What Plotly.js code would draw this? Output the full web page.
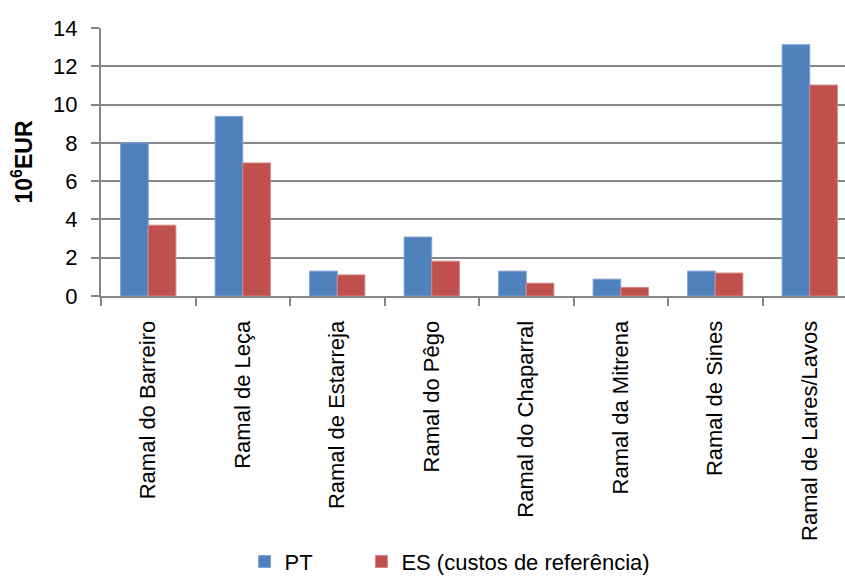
<!DOCTYPE html>
<html>
<head>
<meta charset="utf-8">
<script src="https://cdn.plot.ly/plotly-3.0.1.min.js"></script>
<style>html,body{margin:0;padding:0;background:#fff;}#chart{width:845px;height:579px;}</style>
</head>
<body>
<div id="chart"></div>
<script>
const categories = ["Ramal do Barreiro", "Ramal de Leça", "Ramal de Estarreja", "Ramal do Pêgo",
  "Ramal do Chaparral", "Ramal da Mitrena", "Ramal de Sines", "Ramal de Lares/Lavos"];
const ptValues = [8.0, 9.38, 1.3, 3.08, 1.3, 0.88, 1.3, 13.13];
const esValues = [3.7, 6.95, 1.1, 1.82, 0.67, 0.45, 1.2, 11.02];
const seriesNames = ["PT", "ES (custos de referência)"];
const yTicks = [0, 2, 4, 6, 8, 10, 12, 14];

const font = "Arial, 'Liberation Sans', sans-serif";

const traces = [
  {type: "bar", name: seriesNames[0], x: categories, y: ptValues, legend: "legend",
   marker: {color: "#4F81BD", line: {color: "#7FA3D2", width: 1}}},
  {type: "bar", name: seriesNames[1], x: categories, y: esValues, legend: "legend2",
   marker: {color: "#C0504D", line: {color: "#D48785", width: 1}}}
];

const legendBase = {orientation: "h", xanchor: "left", yref: "container", y: 0.03, yanchor: "middle",
  font: {family: font, size: 22, color: "#000"}, itemclick: false, bgcolor: "rgba(0,0,0,0)"};

const layout = {
  width: 845, height: 579,
  margin: {l: 101, r: 0, t: 28, b: 283, autoexpand: false},
  paper_bgcolor: "#fff", plot_bgcolor: "#fff",
  font: {family: font, size: 20, color: "#000"},
  barmode: "group", bargap: 0.415, bargroupgap: 0,
  showlegend: true,
  legend: Object.assign({}, legendBase, {x: 0.193}),
  legend2: Object.assign({}, legendBase, {x: 0.35}),
  xaxis: {
    type: "category", range: [-0.5, 7.373], tickangle: -90, automargin: false,
    showgrid: false, showline: true, linecolor: "#868686", linewidth: 2,
    ticks: "outside", tickson: "boundaries", ticklen: 8, tickcolor: "#868686", tickwidth: 2,
    tickfont: {family: font, size: 22, color: "#000"}, ticklabelstandoff: 14,
    fixedrange: true
  },
  yaxis: {
    range: [0, 14], tickvals: yTicks, ticktext: yTicks.map(String), automargin: false,
    showgrid: true, gridcolor: "#868686", gridwidth: 2, zeroline: false,
    showline: true, linecolor: "#868686", linewidth: 2,
    ticks: "outside", ticklen: 8, tickcolor: "#868686", tickwidth: 2,
    tickfont: {family: font, size: 22, color: "#000"}, ticklabelstandoff: 9,
    title: {text: "<b>10<sup>6</sup>EUR</b>", font: {family: font, size: 23, color: "#000"}, standoff: 14},
    fixedrange: true
  }
};

Plotly.newPlot("chart", traces, layout, {displayModeBar: false, staticPlot: true});
</script>
</body>
</html>
